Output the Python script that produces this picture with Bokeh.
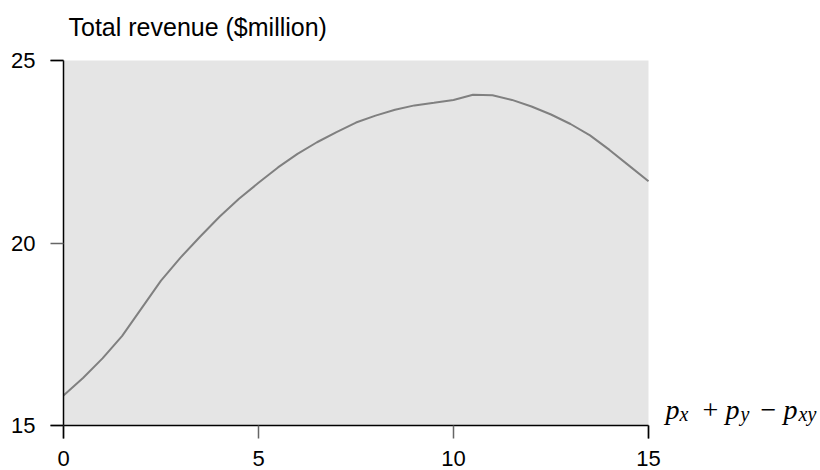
from bokeh.plotting import figure
from bokeh.models import Label, Range1d, FixedTicker, LinearAxis, BoxAnnotation
from bokeh.embed import file_html
from bokeh.resources import INLINE

# Sum of probabilities p_x + p_y - p_xy against total revenue
prob_sum = [0.0, 0.5, 1.0, 1.5, 2.0, 2.5, 3.0, 3.5, 4.0, 4.5, 5.0,
            5.5, 6.0, 6.5, 7.0, 7.5, 8.0, 8.5, 9.0, 9.5, 10.0,
            10.5, 11.0, 11.5, 12.0, 12.5, 13.0, 13.5, 14.0, 14.5, 15.0]
revenue = [15.82, 16.30, 16.84, 17.45, 18.21, 18.97, 19.60, 20.17, 20.72, 21.21, 21.65,
           22.07, 22.44, 22.76, 23.04, 23.30, 23.49, 23.65, 23.77, 23.84, 23.92,
           24.06, 24.05, 23.92, 23.74, 23.52, 23.26, 22.95, 22.55, 22.12, 21.69]

x_ticks = [0, 5, 10, 15]
y_ticks = [15, 20, 25]
title_text = "Total revenue ($million)"

SANS = "Liberation Sans"
SERIF = "Liberation Serif"

W, H = 820, 470
# panel placement inside the canvas (pixels)
LEFT, RIGHT, TOP, BOTTOM = 63, 648, 60, 425

x0, x1 = x_ticks[0], x_ticks[-1]
y0, y1 = y_ticks[0], y_ticks[-1]
kx = (RIGHT - LEFT) / (x1 - x0)
ky = (BOTTOM - TOP) / (y1 - y0)

# The frame spans the whole canvas so that text outside the data panel is not clipped
p = figure(width=W, height=H, output_backend="svg", toolbar_location=None,
           x_range=Range1d(x0 - LEFT / kx, x1 + (W - RIGHT) / kx),
           y_range=Range1d(y0 - (H - BOTTOM) / ky, y1 + TOP / ky),
           x_axis_location=None, y_axis_location=None,
           min_border=0)
p.background_fill_color = "white"
p.border_fill_color = "white"
p.outline_line_color = None
p.grid.visible = False

p.add_layout(BoxAnnotation(left=x0, right=x1, bottom=y0, top=y1,
                           fill_color="#e5e5e5", fill_alpha=1, line_color=None,
                           level="underlay"))

p.line(prob_sum, revenue, line_color="#808080", line_width=2)


def make_axis(kind, ticks, where, tick_color, with_line, with_labels):
    ax = LinearAxis(ticker=FixedTicker(ticks=ticks), fixed_location=where)
    ax.bounds = (min(ticks), max(ticks))
    ax.minor_tick_line_color = None
    ax.axis_line_color = "black" if with_line else None
    ax.axis_line_width = 1.5
    ax.major_tick_line_color = tick_color
    ax.major_tick_line_width = 1.5
    ax.major_tick_in = 0
    ax.major_tick_out = 13
    ax.major_label_text_font = SANS
    ax.major_label_text_font_size = "22px"
    ax.major_label_text_color = "black" if with_labels else None
    ax.major_label_standoff = 12 if kind == "x" else 15
    p.add_layout(ax, "below" if kind == "x" else "left")
    return ax


make_axis("x", x_ticks, y0, "#666666", True, True)
make_axis("y", y_ticks, x0, "#666666", True, True)
# end ticks drawn in black, continuing the axis lines
make_axis("x", [x0, x1], y0, "black", False, False)
make_axis("y", [y0, y1], x0, "black", False, False)

# Title above the top-left corner of the panel
p.add_layout(Label(x=x0, y=y1, x_offset=5, y_offset=34, text=title_text,
                   text_font=SANS, text_font_size="25px", text_color="black",
                   text_baseline="alphabetic", text_align="left"))

# Axis label p_x + p_y - p_xy built from italic serif pieces
pieces = [
    ("p", 17, 16, "28px"),
    ("x", 31, 12, "20px"),
    ("+", 54, 16, "28px"),
    ("p", 77, 16, "28px"),
    ("y", 92, 12, "20px"),
    ("\u2212", 112, 16, "28px"),
    ("p", 135, 16, "28px"),
    ("xy", 150, 12, "20px"),
]
for txt, dx, dy, size in pieces:
    style = "normal" if txt in ("+", "\u2212") else "italic"
    p.add_layout(Label(x=x1, y=y0, x_offset=dx, y_offset=dy, text=txt,
                       text_font=SERIF, text_font_style=style, text_font_size=size,
                       text_color="black", text_baseline="alphabetic", text_align="left"))

open("out.html", "w").write(file_html(p, INLINE))
